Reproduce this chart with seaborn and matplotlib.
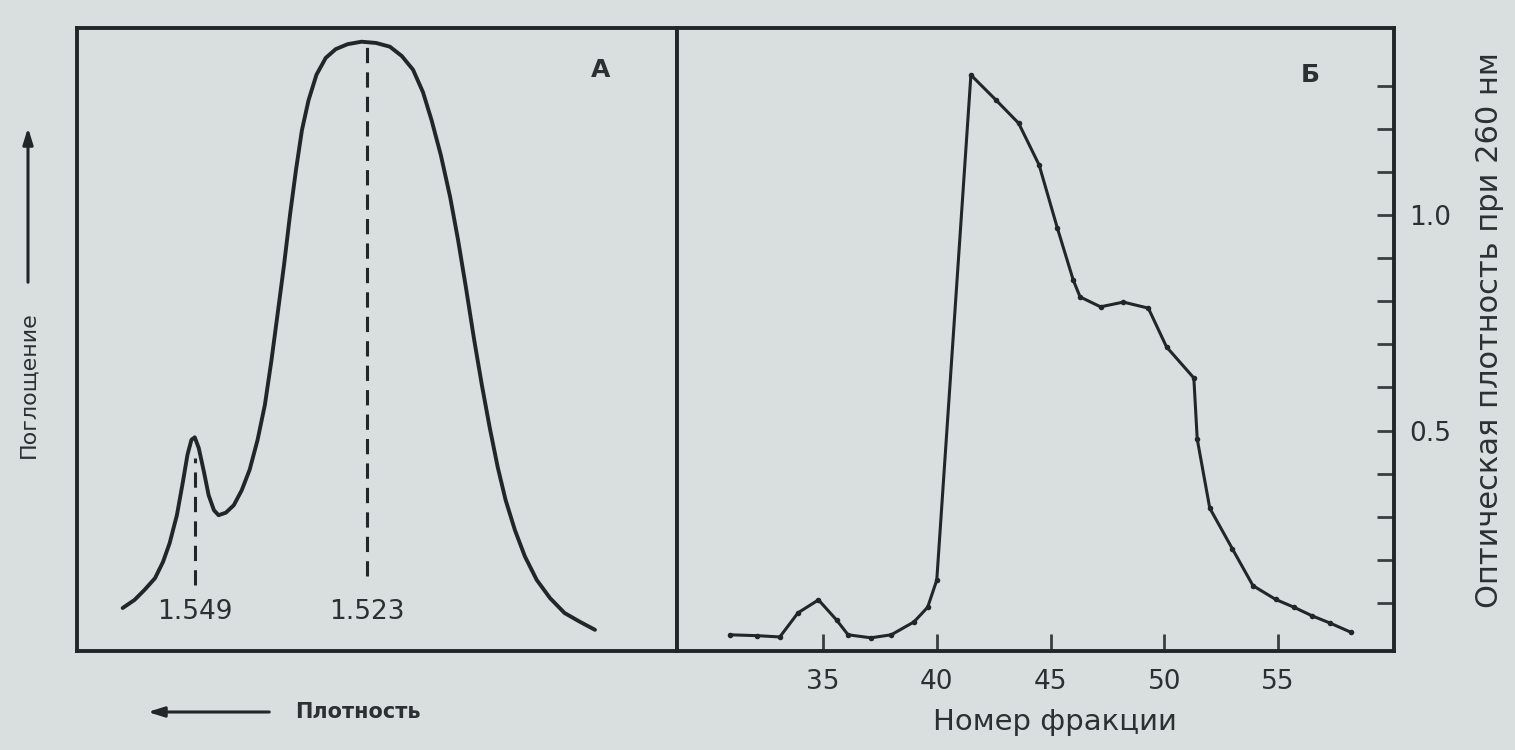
import matplotlib
matplotlib.use("Agg")
import matplotlib.pyplot as plt
import numpy as np
import pandas as pd
import seaborn as sns
from matplotlib.ticker import FixedLocator, NullFormatter

# ---------------- data ----------------
# Panel A: absorption profile vs buoyant density (density grows to the left)
density_a = [1.5599, 1.5581, 1.5566, 1.5550, 1.5538, 1.5528, 1.5517, 1.5508,
             1.5501, 1.5495, 1.5490, 1.5484, 1.5476, 1.5469, 1.5461, 1.5454,
             1.5443, 1.5431, 1.5419, 1.5407, 1.5395, 1.5384, 1.5374, 1.5365,
             1.5355, 1.5346, 1.5337, 1.5328, 1.5318, 1.5306, 1.5292, 1.5277,
             1.5259, 1.5238, 1.5216, 1.5195, 1.5177, 1.5160, 1.5145, 1.5132,
             1.5118, 1.5104, 1.5092, 1.5080, 1.5068, 1.5056, 1.5044, 1.5032,
             1.5020, 1.5006, 1.4991, 1.4973, 1.4953, 1.4931, 1.4908, 1.4885]
absorb_a = [0.069, 0.082, 0.098, 0.117, 0.143, 0.173, 0.218, 0.271,
            0.315, 0.339, 0.343, 0.326, 0.287, 0.250, 0.226, 0.218,
            0.222, 0.234, 0.258, 0.291, 0.339, 0.395, 0.467, 0.539,
            0.620, 0.700, 0.772, 0.836, 0.884, 0.925, 0.952, 0.966,
            0.974, 0.978, 0.976, 0.970, 0.955, 0.933, 0.897, 0.852,
            0.796, 0.729, 0.660, 0.583, 0.502, 0.427, 0.358, 0.295,
            0.242, 0.194, 0.152, 0.114, 0.085, 0.061, 0.047, 0.034]
peak_density = [1.549, 1.523]
peak_labels = ["1.549", "1.523"]
dash_top = [0.31, 0.975]
dash_bottom = [0.106, 0.12]
label_level = 0.062

# Panel B: optical density at 260 nm vs fraction number
fraction_b = [30.9, 32.1, 33.1, 33.9, 34.8, 35.6, 36.1, 37.1, 38.0, 39.0,
              39.6, 40.0, 41.5, 42.6, 43.6, 44.5, 45.3, 46.0, 46.3, 47.2,
              48.2, 49.3, 50.1, 51.3, 51.45, 52.0, 53.0, 53.9, 54.9, 55.7,
              56.5, 57.3, 58.2]
od_b = [0.026, 0.024, 0.021, 0.077, 0.107, 0.060, 0.026, 0.019, 0.026, 0.056,
        0.090, 0.153, 1.325, 1.267, 1.213, 1.116, 0.970, 0.849, 0.810, 0.787,
        0.798, 0.784, 0.694, 0.622, 0.480, 0.320, 0.225, 0.140, 0.108, 0.090,
        0.070, 0.053, 0.032]
x_ticks_b = [35, 40, 45, 50, 55]
x_tick_labels_b = ["35", "40", "45", "50", "55"]
y_major_b = [0.5, 1.0]
y_major_labels_b = ["0.5", "1.0"]
y_minor_b = [0.1, 0.2, 0.3, 0.4, 0.6, 0.7, 0.8, 0.9, 1.1, 1.2, 1.3]

df_a = pd.DataFrame({"density": density_a, "absorb": absorb_a})
df_b = pd.DataFrame({"fraction": fraction_b, "od": od_b})

# ---------------- style ----------------
sns.set_theme(style="white")
plt.rcParams['font.family'] = ['DejaVu Sans']
BG = '#d9dedf'
INK = '#222628'
TXT = '#2c3032'

W, H = 1515, 750
fig = plt.figure(figsize=(W / 100, H / 100), dpi=100, facecolor=BG)

left, divider, right = 77, 677, 1394
top, bottom = 28, 651
axA = fig.add_axes([left / W, 1 - bottom / H, (divider - left) / W, (bottom - top) / H])
axB = fig.add_axes([divider / W, 1 - bottom / H, (right - divider) / W, (bottom - top) / H])

for ax in (axA, axB):
    ax.set_facecolor(BG)
    for s in ax.spines.values():
        s.set_visible(True)
        s.set_color(INK)
        s.set_linewidth(2.8)

# ---------------- panel A ----------------
sns.lineplot(data=df_a, x="density", y="absorb", sort=False, ax=axA,
             color=INK, linewidth=2.8, estimator=None)
axA.lines[-1].set_solid_joinstyle('round')
axA.vlines(peak_density, dash_bottom, dash_top, colors=INK, linewidth=2.2,
           linestyles=(0, (5, 3)))
for d, lab in zip(peak_density, peak_labels):
    axA.text(d, label_level, lab, ha='center', va='center', fontsize=19,
             color=TXT)
axA.set_xlim(1.5668, 1.4761)
axA.set_ylim(0, 1.0)
axA.set_xticks([])
axA.set_yticks([])
axA.set_xlabel("")
axA.set_ylabel("")
axA.text(0.872, 0.933, "А", transform=axA.transAxes, ha='center', va='center',
         fontsize=18, fontweight='bold', color=TXT)

# ---------------- panel B ----------------
sns.lineplot(data=df_b, x="fraction", y="od", sort=False, ax=axB,
             color=INK, linewidth=2.2, marker='o', markersize=4,
             markeredgewidth=0, estimator=None)
axB.set_xlim(28.58, 60.1)
axB.set_ylim(-0.0116, 1.434)
axB.set_xticks(x_ticks_b)
axB.set_xticklabels(x_tick_labels_b)
axB.yaxis.tick_right()
axB.set_yticks(y_major_b)
axB.set_yticklabels(y_major_labels_b)
axB.yaxis.set_minor_locator(FixedLocator(y_minor_b))
axB.yaxis.set_minor_formatter(NullFormatter())
axB.tick_params(axis='x', which='major', direction='in', length=12, width=2,
                color='#3a3e40', labelsize=19, labelcolor=TXT, pad=13,
                bottom=True, top=False)
axB.tick_params(axis='y', which='both', direction='in', length=12, width=2,
                color='#3a3e40', labelsize=19, labelcolor=TXT, pad=11,
                right=True, left=False)
axB.set_xlabel("")
axB.set_ylabel("")
axB.text(0.883, 0.925, "Б", transform=axB.transAxes, ha='center', va='center',
         fontsize=18, fontweight='bold', color=TXT)

# ---------------- outer labels ----------------
fig.text(1055 / W, 1 - 722 / H, "Номер фракции", ha='center', va='center',
         fontsize=21, color=TXT)
fig.text(1490 / W, 1 - 330 / H, "Оптическая плотность при 260 нм",
         rotation=90, ha='center', va='center', fontsize=22, color=TXT)
fig.text(28 / W, 1 - 385 / H, "Поглощение", rotation=90, ha='center',
         va='center', fontsize=16, color=TXT)
fig.text(295 / W, 1 - 712 / H, "Плотность", ha='left', va='center',
         fontsize=15, fontweight='bold', color=TXT)

axA.annotate("", xy=(28, H - 125), xytext=(28, H - 285),
             xycoords='figure pixels', textcoords='figure pixels',
             arrowprops=dict(arrowstyle='-|>,head_length=0.8,head_width=0.25',
                             lw=2.2, color=INK))
axA.annotate("", xy=(145, H - 712), xytext=(272, H - 712),
             xycoords='figure pixels', textcoords='figure pixels',
             arrowprops=dict(arrowstyle='-|>,head_length=0.8,head_width=0.25',
                             lw=2.2, color=INK))

fig.savefig("out.png", dpi=100, facecolor=BG)
